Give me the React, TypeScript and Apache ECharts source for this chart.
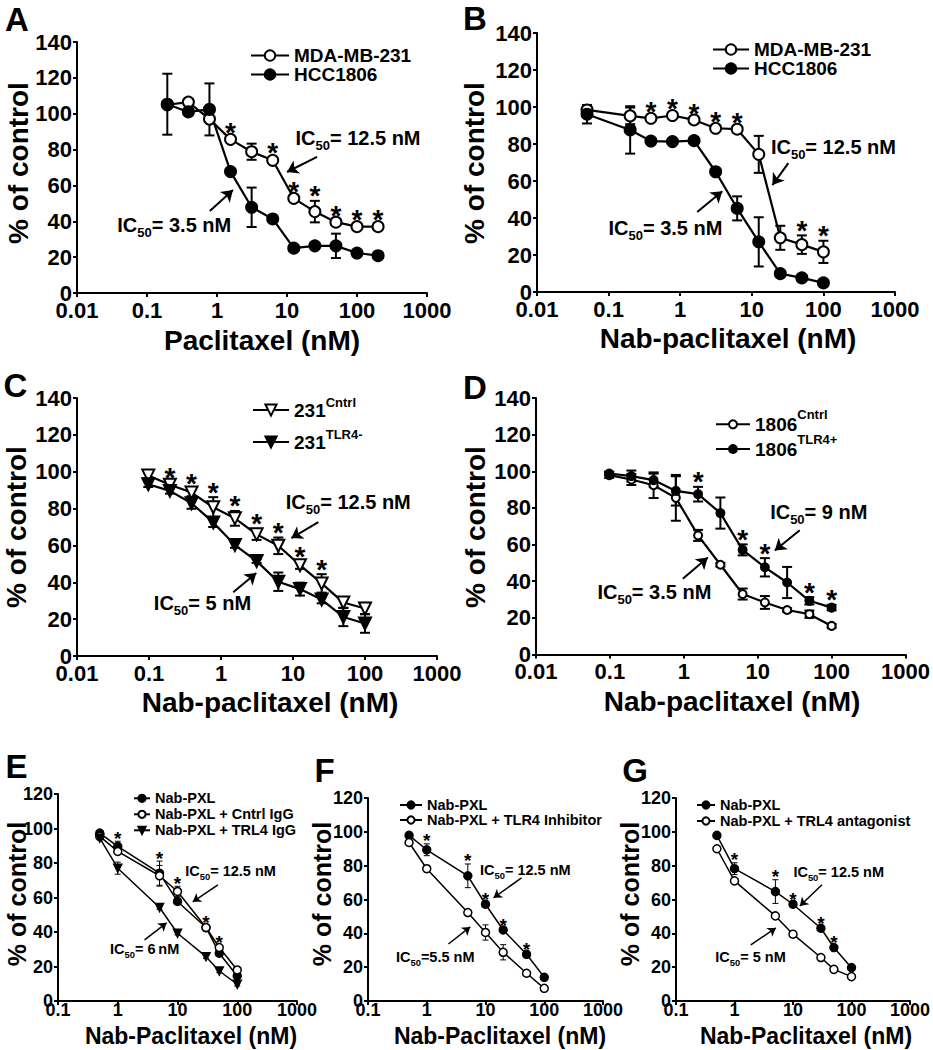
import React, { useEffect, useRef } from 'react';
import * as echarts from 'echarts';

const FONT = '"Liberation Sans", Arial, Helvetica, sans-serif';

// ---------------- DATA ----------------
// Panel A: Paclitaxel
const dosesA = [0.195, 0.39, 0.78, 1.56, 3.125, 6.25, 12.5, 25, 50, 100, 200];
const mdaA = [105, 106.5, 97, 85.7, 78.8, 74, 52.8, 45.4, 39.5, 37, 37];
const mdaAErr = [0, 0, 1, 1, 4.5, 1.5, 1, 6, 1, 1, 1];
const hccA = [105.3, 101, 102.4, 67.7, 47.8, 41.3, 25, 26.3, 26.3, 22.3, 20.8];
const hccAErr = [17, 1, 14.5, 1, 11, 1, 1, 1, 6.8, 1, 1];
const starsA = [1.56, 6.25, 12.5, 25, 50, 100, 200];

// Panel B: Nab-paclitaxel
const dosesB = [0.05, 0.2, 0.39, 0.78, 1.56, 3.125, 6.25, 12.5, 25, 50, 100];
const mdaB = [98.4, 95.2, 93.9, 95.4, 93, 88.5, 88, 74.4, 29.3, 25.6, 21.7];
const mdaBErr = [2, 4.5, 1, 1, 1, 1, 1, 10, 6.5, 5, 6];
const hccB = [96.1, 87.6, 81.6, 81.3, 81.8, 65, 45.2, 27.1, 9.9, 7.6, 4.9];
const hccBErr = [5, 12.8, 1, 1, 1, 1, 6.5, 13.3, 1, 1, 1];
const starsB = [0.39, 0.78, 1.56, 3.125, 6.25, 50, 100];

// Panel C
const dosesC = [0.0977, 0.195, 0.39, 0.78, 1.56, 3.125, 6.25, 12.5, 25, 50, 100];
const cntrlC = [97.9, 92.9, 88.7, 80.7, 74.7, 66, 59.8, 49.3, 39.4, 29, 25.8];
const cntrlCErr = [1.5, 1.5, 2, 5.5, 4, 3, 4.5, 2, 5, 3, 3];
const tlrC = [93.2, 89.6, 82.9, 72.5, 60.2, 51.5, 40.3, 36.3, 30.6, 21.2, 17.6];
const tlrCErr = [1.5, 1.5, 3, 2.5, 1.5, 1, 5, 3.5, 2, 5, 5];
const starsC = [0.195, 0.39, 0.78, 1.56, 3.125, 6.25, 12.5, 25];

// Panel D
const dosesD = [0.0977, 0.195, 0.39, 0.78, 1.56, 3.125, 6.25, 12.5, 25, 50, 100];
const cntrlD = [97.9, 95.5, 92.4, 85.5, 65, 49, 33, 28.4, 24.3, 22, 15.6];
const cntrlDErr = [1.5, 3, 7, 12.5, 3, 1, 3, 3.5, 1, 2, 1];
const tlrD = [98.8, 97.4, 95.2, 89.3, 87.5, 77.2, 57.1, 47.6, 39.3, 29.3, 25.6];
const tlrDErr = [1, 3, 3.5, 8, 4, 8.5, 3, 5, 8.5, 2, 1.5];
const starsD = [1.56, 6.25, 12.5, 50, 100];

// Panel E
const dosesE = [0.5, 1, 5, 10, 30, 50, 100];
const pxlE = [97.3, 89.6, 74.1, 57.7, 42.6, 27.7, 14.5];
const pxlEErr = [1, 3, 7, 1, 1, 1, 1];
const cntrlE = [95.4, 86.7, 72.6, 63.5, 42.6, 31, 18];
const cntrlEErr = [1, 1, 6, 3, 1, 1, 1];
const tlrE = [94.4, 77, 54.2, 39.3, 25.7, 17.4, 9.7];
const tlrEErr = [1, 3.5, 1, 1, 1, 1, 1];
const starsE = [1, 5, 10, 30, 50];

// Panel F
const dosesF = [0.5, 1, 5, 10, 20, 50, 100];
const pxlF = [97.9, 89.4, 74, 57.2, 42, 27.6, 14];
const pxlFErr = [1, 3.5, 7, 1, 1, 1, 1];
const inhF = [93.7, 78.2, 52.3, 40.5, 28.8, 16.4, 7.5];
const inhFErr = [1, 2, 1, 4.5, 4.5, 1, 1];
const starsF = [1, 5, 10, 20, 50];

// Panel G
const dosesG = [0.5, 1, 5, 10, 30, 50, 100];
const pxlG = [97.9, 78.2, 64.7, 57.2, 43, 31.6, 19.7];
const pxlGErr = [1, 3.5, 7, 1, 1, 1, 1];
const antG = [90, 71, 50.3, 39.5, 25.7, 18.7, 14.4];
const antGErr = [1, 1, 1, 1, 1, 1, 1];
const starsG = [1, 5, 10, 30, 50];

// Tick labels
const xTicksAD = ['0.01', '0.1', '1', '10', '100', '1000'];
const xTicksEG = ['0.1', '1', '10', '100', '1000'];
const yTicksAD = ['0', '20', '40', '60', '80', '100', '120', '140'];
const yTicksEG = ['0', '20', '40', '60', '80', '100', '120'];

// Texts
const letters = ['A', 'B', 'C', 'D', 'E', 'F', 'G'];
const xTitles = ['Paclitaxel (nM)', 'Nab-paclitaxel (nM)', 'Nab-paclitaxel (nM)', 'Nab-paclitaxel (nM)',
  'Nab-Paclitaxel (nM)', 'Nab-Paclitaxel (nM)', 'Nab-Paclitaxel (nM)'];
const yTitle = '% of control';
const ic50Texts = [
  ['= 12.5 nM', '= 3.5 nM'],
  ['= 12.5 nM', '= 3.5 nM'],
  ['= 12.5 nM', '= 5 nM'],
  ['= 9 nM', '= 3.5 nM'],
  ['= 12.5 nM', '= 6\u2009nM'],
  ['= 12.5 nM', '=5.5 nM'],
  ['= 12.5 nM', '= 5 nM'],
];
// legend names: [base, superscript]
const namesC = [['231', 'Cntrl'], ['231', 'TLR4-']];
const namesD = [['1806', 'Cntrl'], ['1806', 'TLR4+']];

// ---------------- LAYOUT ----------------
type GroupStyle = { symbol: string; size: number; filled: boolean; rotate?: number };
type Layout = {
  grid: { left: number; top: number; width: number; height: number };
  xMin: number; yMax: number; xTicks: string[]; yTicks: string[];
  big: boolean;
  styles: GroupStyle[];
  legend: { left: number; top: number; itemWidth: number; itemHeight: number; itemGap: number; lineHeight: number; fontSize: number; supPad?: number };
  letter: [number, number];
  yTitlePos: [number, number];
  xTitlePos: [number, number];
  labelAt: [number, number][];
  arrows: [[number, number], [number, number]][];
};

const bigOpen: GroupStyle = { symbol: 'circle', size: 11, filled: false };
const bigFill: GroupStyle = { symbol: 'circle', size: 11, filled: true };

const layouts: Layout[] = [
  {
    grid: { left: 77, top: 42, width: 350, height: 251 }, xMin: 0.01, yMax: 140, xTicks: xTicksAD, yTicks: yTicksAD, big: true,
    styles: [bigOpen, bigFill],
    legend: { left: 250, top: 46, itemWidth: 38, itemHeight: 13, itemGap: 0, lineHeight: 18, fontSize: 19 },
    letter: [17, 19.5], yTitlePos: [18, 163], xTitlePos: [262, 340],
    labelAt: [[13, 86.4], [0.037, 37.9]],
    arrows: [[[26.9, 75.9], [10, 67.5]], [[0.79, 45.7], [1.69, 57.4]]],
  },
  {
    grid: { left: 537, top: 33, width: 358, height: 259 }, xMin: 0.01, yMax: 140, xTicks: xTicksAD, yTicks: yTicksAD, big: true,
    styles: [bigOpen, bigFill],
    legend: { left: 712, top: 40, itemWidth: 36, itemHeight: 13, itemGap: 0, lineHeight: 19, fontSize: 19 },
    letter: [475, 18], yTitlePos: [474, 163], xTitlePos: [728, 338],
    labelAt: [[18.2, 78.4], [0.098, 34.5]],
    arrows: [[[32.4, 69.7], [19.4, 57.8]], [[1.73, 43.2], [3.87, 54.5]]],
  },
  {
    grid: { left: 77, top: 398, width: 360, height: 258 }, xMin: 0.01, yMax: 140, xTicks: xTicksAD, yTicks: yTicksAD, big: true,
    styles: [{ symbol: 'triangle', size: 12, filled: false, rotate: 180 }, { symbol: 'triangle', size: 12, filled: true, rotate: 180 }],
    legend: { left: 252, top: 395.5, itemWidth: 36, itemHeight: 14, itemGap: 3, lineHeight: 19, fontSize: 19, supPad: 16 },
    letter: [15.5, 385.5], yTitlePos: [16, 527], xTitlePos: [270, 702],
    labelAt: [[7.8, 83.7], [0.115, 28.7]],
    arrows: [[[22.5, 72.7], [9.47, 64]], [[1.48, 34.6], [3.09, 45]]],
  },
  {
    grid: { left: 536, top: 398, width: 370, height: 256.5 }, xMin: 0.01, yMax: 140, xTicks: xTicksAD, yTicks: yTicksAD, big: true,
    styles: [{ symbol: 'circle', size: 8, filled: false }, { symbol: 'circle', size: 8, filled: true }],
    legend: { left: 715, top: 407.8, itemWidth: 34, itemHeight: 10, itemGap: -8.3, lineHeight: 19, fontSize: 19, supPad: 20 },
    letter: [475, 387.5], yTitlePos: [475, 527], xTitlePos: [732, 701],
    labelAt: [[14.5, 77.8], [0.0667, 34.2]],
    arrows: [[[37, 67.8], [17, 56.8]], [[0.97, 41.3], [2.11, 52.9]]],
  },
  {
    grid: { left: 58, top: 794, width: 239, height: 207 }, xMin: 0.1, yMax: 120, xTicks: xTicksEG, yTicks: yTicksEG, big: false,
    styles: [{ symbol: 'circle', size: 8, filled: true }, { symbol: 'circle', size: 8, filled: false }, { symbol: 'triangle', size: 8, filled: true, rotate: 180 }],
    legend: { left: 133, top: 790.3, itemWidth: 16, itemHeight: 9, itemGap: 0, lineHeight: 16, fontSize: 14.5 },
    letter: [16.5, 766.5], yTitlePos: [17, 894], xTitlePos: [191, 1036],
    labelAt: [[13.2, 75.5], [0.726, 30.2]],
    arrows: [[[47.4, 67.3], [18, 57.5]], [[2.81, 35.4], [6.58, 45.3]]],
  },
  {
    grid: { left: 368, top: 798, width: 235, height: 203 }, xMin: 0.1, yMax: 120, xTicks: xTicksEG, yTicks: yTicksEG, big: false,
    styles: [{ symbol: 'circle', size: 8, filled: true }, { symbol: 'circle', size: 8, filled: false }],
    legend: { left: 399, top: 797.5, itemWidth: 22, itemHeight: 9, itemGap: 0, lineHeight: 15, fontSize: 14.5 },
    letter: [324.5, 770], yTitlePos: [322, 894], xTitlePos: [500, 1036],
    labelAt: [[7.9, 77.6], [0.293, 26]],
    arrows: [[[41, 72.8], [13.7, 61]], [[2.34, 33.7], [5.5, 43.8]]],
  },
  {
    grid: { left: 676, top: 798, width: 234, height: 203 }, xMin: 0.1, yMax: 120, xTicks: xTicksEG, yTicks: yTicksEG, big: false,
    styles: [{ symbol: 'circle', size: 8, filled: true }, { symbol: 'circle', size: 8, filled: false }],
    legend: { left: 696, top: 797, itemWidth: 18, itemHeight: 9, itemGap: 0, lineHeight: 16, fontSize: 14.5 },
    letter: [635, 770.5], yTitlePos: [630, 894], xTitlePos: [806, 1036],
    labelAt: [[9.96, 76.4], [0.46, 26]],
    arrows: [[[31.3, 68.7], [13.1, 56.2]], [[1.9, 33.2], [5.1, 43.2]]],
  },
];

type Group = { name: string; legendRich?: string; values: number[]; errors: number[] };
type Panel = { doses: number[]; groups: Group[]; stars: number[] };

const panels: Panel[] = [
  { doses: dosesA, stars: starsA, groups: [
    { name: 'MDA-MB-231', values: mdaA, errors: mdaAErr },
    { name: 'HCC1806', values: hccA, errors: hccAErr }] },
  { doses: dosesB, stars: starsB, groups: [
    { name: 'MDA-MB-231', values: mdaB, errors: mdaBErr },
    { name: 'HCC1806', values: hccB, errors: hccBErr }] },
  { doses: dosesC, stars: starsC, groups: [
    { name: namesC[0].join(' '), legendRich: `{a|${namesC[0][0]}}{s|${namesC[0][1]}}`, values: cntrlC, errors: cntrlCErr },
    { name: namesC[1].join(' '), legendRich: `{a|${namesC[1][0]}}{s|${namesC[1][1]}}`, values: tlrC, errors: tlrCErr }] },
  { doses: dosesD, stars: starsD, groups: [
    { name: namesD[0].join(' '), legendRich: `{a|${namesD[0][0]}}{s|${namesD[0][1]}}`, values: cntrlD, errors: cntrlDErr },
    { name: namesD[1].join(' '), legendRich: `{a|${namesD[1][0]}}{s|${namesD[1][1]}}`, values: tlrD, errors: tlrDErr }] },
  { doses: dosesE, stars: starsE, groups: [
    { name: 'Nab-PXL', values: pxlE, errors: pxlEErr },
    { name: 'Nab-PXL + Cntrl IgG', values: cntrlE, errors: cntrlEErr },
    { name: 'Nab-PXL + TRL4 IgG', values: tlrE, errors: tlrEErr }] },
  { doses: dosesF, stars: starsF, groups: [
    { name: 'Nab-PXL', values: pxlF, errors: pxlFErr },
    { name: 'Nab-PXL + TLR4 Inhibitor', values: inhF, errors: inhFErr }] },
  { doses: dosesG, stars: starsG, groups: [
    { name: 'Nab-PXL', values: pxlG, errors: pxlGErr },
    { name: 'Nab-PXL + TRL4 antagonist', values: antG, errors: antGErr }] },
];

function makeErrRender(capHalf: number, width: number) {
  return (params: any, api: any) => {
    const x = api.value(0);
    const y = api.value(1);
    const e = api.value(2);
    if (!e) return null;
    const t = api.coord([x, y + e]);
    const b = api.coord([x, y - e]);
    const style = { stroke: '#000', lineWidth: width };
    return {
      type: 'group',
      children: [
        { type: 'line', shape: { x1: t[0], y1: t[1], x2: b[0], y2: b[1] }, style },
        { type: 'line', shape: { x1: t[0] - capHalf, y1: t[1], x2: t[0] + capHalf, y2: t[1] }, style },
        { type: 'line', shape: { x1: b[0] - capHalf, y1: b[1], x2: b[0] + capHalf, y2: b[1] }, style },
      ],
    };
  };
}

function buildOption() {
  const grid: any[] = [];
  const xAxis: any[] = [];
  const yAxis: any[] = [];
  const series: any[] = [];
  const legend: any[] = [];
  const graphic: any[] = [];

  panels.forEach((p, i) => {
    const L = layouts[i];
    const big = L.big;
    const tickFont = big ? 22 : 18;
    const lw = big ? 2.2 : 1.5;
    const axisW = 2;
    grid.push({ ...L.grid });
    xAxis.push({
      type: 'log', logBase: 10, gridIndex: i, min: L.xMin, max: 1000,
      axisLine: { show: true, onZero: false, lineStyle: { color: '#000', width: axisW } },
      axisTick: { show: true, length: 4, lineStyle: { color: '#000', width: axisW } },
      minorTick: { show: false }, splitLine: { show: false },
      axisLabel: {
        color: '#000', fontFamily: FONT, fontWeight: 'bold', fontSize: tickFont, lineHeight: big ? 16 : 12,
        margin: big ? 9 : 3,
        formatter: (v: number) => L.xTicks[Math.round(Math.log10(v / L.xMin))] ?? '',
      },
    });
    yAxis.push({
      type: 'value', gridIndex: i, min: 0, max: L.yMax, interval: 20,
      axisLine: { show: true, onZero: false, lineStyle: { color: '#000', width: axisW } },
      axisTick: { show: true, length: 4, lineStyle: { color: '#000', width: axisW } },
      splitLine: { show: false },
      axisLabel: {
        color: '#000', fontFamily: FONT, fontWeight: 'bold', fontSize: tickFont, lineHeight: big ? 16 : 10, margin: 5,
        formatter: (v: number) => L.yTicks[Math.round(v / 20)] ?? '',
      },
    });

    p.groups.forEach((g, gi) => {
      const st = L.styles[gi];
      series.push({
        type: 'line', name: g.name, xAxisIndex: i, yAxisIndex: i,
        data: p.doses.map((d, j) => [d, g.values[j]]),
        symbol: st.symbol, symbolSize: st.size, symbolRotate: st.rotate || 0, showSymbol: true,
        lineStyle: { color: '#000', width: lw },
        itemStyle: { color: st.filled ? '#000' : '#fff', borderColor: '#000', borderWidth: big ? 2 : 1.5, opacity: 1 },
        z: 3, silent: true, emphasis: { disabled: true },
      });
      series.push({
        type: 'custom', name: `err-${i}-${gi}`, xAxisIndex: i, yAxisIndex: i,
        data: p.doses.map((d, j) => [d, g.values[j], g.errors[j]]),
        encode: { x: 0, y: 1 },
        renderItem: makeErrRender(big ? 5 : 3, big ? 2 : 1),
        z: 2, silent: true,
      });
    });

    // asterisks
    series.push({
      type: 'scatter', name: `stars-${i}`, xAxisIndex: i, yAxisIndex: i,
      data: p.stars.map((x) => {
        const j = p.doses.indexOf(x);
        return [x, Math.max(...p.groups.map((g) => g.values[j] + g.errors[j]))];
      }),
      symbolSize: 1, itemStyle: { color: 'rgba(0,0,0,0)', opacity: 1 },
      label: {
        show: true, formatter: '*', position: 'inside', offset: [0, big ? -5 : -3], opacity: 1,
        color: '#000', fontFamily: FONT, fontWeight: 'bold', fontSize: big ? 28 : 19,
      },
      z: 4, silent: true,
    });

    // IC50 annotations
    const F = big ? 20 : 14.5;
    series.push({
      type: 'scatter', name: `ic50-${i}`, xAxisIndex: i, yAxisIndex: i,
      data: L.labelAt.map((at, k) => ({
        value: at,
        label: { formatter: `{a|IC}{s|50}{a|${ic50Texts[i][k]}}` },
      })),
      symbolSize: 1, itemStyle: { color: 'rgba(0,0,0,0)', opacity: 1 },
      label: {
        show: true, position: 'right', distance: 0, opacity: 1, color: '#000',
        rich: {
          a: { fontSize: F, fontWeight: 'bold', fontFamily: FONT, color: '#000', lineHeight: F, verticalAlign: 'middle' },
          s: { fontSize: F * 0.65, fontWeight: 'bold', fontFamily: FONT, color: '#000', lineHeight: F * 0.65, padding: [F * 0.75, 0, 0, 0], verticalAlign: 'middle' },
        },
      },
      markLine: {
        silent: true, symbol: ['none', 'arrow'], symbolSize: big ? 11 : 8,
        lineStyle: { color: '#000', width: big ? 2 : 1.5, type: 'solid', opacity: 1 },
        itemStyle: { color: '#000' },
        label: { show: false },
        emphasis: { disabled: true },
        data: L.arrows.map(([a, b]) => [{ coord: a }, { coord: b }]),
      },
      z: 5, silent: true,
    });

    // legend
    const lg = L.legend;
    const richMap: Record<string, string> = {};
    p.groups.forEach((g) => { if (g.legendRich) richMap[g.name] = g.legendRich; });
    const hasRich = Object.keys(richMap).length > 0;
    legend.push({
      show: true, orient: 'vertical', left: lg.left, top: lg.top, padding: 0,
      itemGap: lg.itemGap, itemWidth: lg.itemWidth, itemHeight: lg.itemHeight,
      selectedMode: false,
      data: p.groups.map((g) => g.name),
      formatter: hasRich ? (name: string) => richMap[name] || name : undefined,
      textStyle: {
        color: '#000', fontFamily: FONT, fontWeight: 'bold', fontSize: lg.fontSize, lineHeight: lg.lineHeight,
        rich: hasRich ? {
          a: { fontSize: lg.fontSize, fontWeight: 'bold', fontFamily: FONT, color: '#000', lineHeight: lg.lineHeight, verticalAlign: 'middle' },
          s: { fontSize: 13, fontWeight: 'bold', fontFamily: FONT, color: '#000', lineHeight: 13, padding: [0, 0, lg.supPad || 0, 0], verticalAlign: 'middle' },
        } : undefined,
      },
    });

    // texts
    graphic.push({
      type: 'text', x: L.letter[0], y: L.letter[1], silent: true,
      style: { text: letters[i], fontSize: 33, fontWeight: 'bold', fontFamily: FONT, fill: '#000',
        align: 'center', verticalAlign: 'middle', textAlign: 'center', textVerticalAlign: 'middle' },
    });
    graphic.push({
      type: 'text', x: L.yTitlePos[0], y: L.yTitlePos[1], rotation: Math.PI / 2, silent: true,
      style: { text: yTitle, fontSize: big ? 28 : 25, fontWeight: 'bold', fontFamily: FONT, fill: '#000',
        align: 'center', verticalAlign: 'middle', textAlign: 'center', textVerticalAlign: 'middle' },
    });
    graphic.push({
      type: 'text', x: L.xTitlePos[0], y: L.xTitlePos[1], silent: true,
      style: { text: xTitles[i], fontSize: big ? 28 : 23, fontWeight: 'bold', fontFamily: FONT, fill: '#000',
        align: 'center', verticalAlign: 'middle', textAlign: 'center', textVerticalAlign: 'middle' },
    });
  });

  return {
    animation: false,
    backgroundColor: '#fff',
    grid, xAxis, yAxis, series, legend,
    graphic: { elements: graphic },
  };
}

export default function App() {
  const ref = useRef<HTMLDivElement>(null);
  useEffect(() => {
    if (!ref.current) return;
    const chart = echarts.init(ref.current, undefined, { renderer: 'svg' });
    chart.setOption(buildOption() as any);
    return () => chart.dispose();
  }, []);
  return <div ref={ref} style={{ position: 'absolute', left: 0, top: 0, width: 933, height: 1050 }} />;
}
